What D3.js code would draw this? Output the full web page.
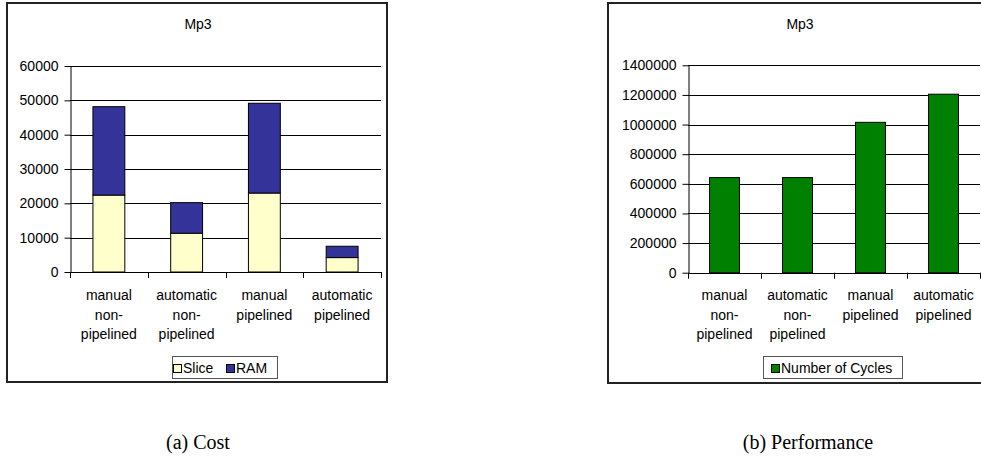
<!DOCTYPE html>
<html>
<head>
<meta charset="utf-8">
<script src="https://cdn.jsdelivr.net/npm/d3@7"></script>
<style>
  body { margin: 0; background: #fff; }
  svg { display: block; font-family: "Liberation Sans", Arial, sans-serif; }
  .caption { font-family: "Liberation Serif", "Times New Roman", serif; }
</style>
</head>
<body>
<svg id="chart" width="981" height="457"></svg>
<script>
'use strict';

// Data.
const categories = ['manual non-pipelined', 'automatic non-pipelined', 'manual pipelined', 'automatic pipelined'];
const categoryLines = [
  ['manual', 'non-', 'pipelined'],
  ['automatic', 'non-', 'pipelined'],
  ['manual', 'pipelined'],
  ['automatic', 'pipelined']
];
const sliceValues = [22400, 11300, 23000, 4200];
const ramValues = [25750, 8900, 26150, 3300];
const cycleValues = [642000, 642000, 1015000, 1205000];
const costTicks = [0, 10000, 20000, 30000, 40000, 50000, 60000];
const cycleTicks = [0, 200000, 400000, 600000, 800000, 1000000, 1200000, 1400000];

const svg = d3.select('#chart');

function drawPanel(opts) {
  const g = svg.append('g');

  // Outer frame
  g.append('rect')
    .attr('x', opts.frame[0]).attr('y', opts.frame[1])
    .attr('width', opts.frame[2]).attr('height', opts.frame[3])
    .attr('fill', '#fff').attr('stroke', '#222').attr('stroke-width', 2);

  g.append('text')
    .attr('x', opts.titleX).attr('y', 29)
    .attr('text-anchor', 'middle')
    .attr('font-size', 14)
    .text('Mp3');

  const x = d3.scaleBand()
    .domain(categories)
    .range([opts.left, opts.right])
    .padding(0);

  const y = d3.scaleLinear()
    .domain([0, opts.ticks[opts.ticks.length - 1]])
    .range([opts.bottom, opts.top]);

  // Gridlines
  g.append('g').selectAll('line')
    .data(opts.ticks.slice(1))
    .join('line')
    .attr('x1', opts.left).attr('x2', opts.right)
    .attr('y1', d => Math.round(y(d)) + 0.5).attr('y2', d => Math.round(y(d)) + 0.5)
    .attr('stroke', '#000');

  // Y axis
  const yAxis = g.append('g')
    .attr('transform', `translate(${opts.left + 0.5},0)`)
    .call(d3.axisLeft(y).tickValues(opts.ticks).tickFormat(d3.format('d'))
      .tickSize(6).tickSizeOuter(0).tickPadding(6));
  yAxis.select('.domain').attr('stroke', '#000');
  yAxis.selectAll('.tick line').attr('stroke', '#000');
  yAxis.selectAll('text')
    .attr('font-size', 14)
    .attr('font-family', '"Liberation Sans", Arial, sans-serif')
    .attr('fill', '#000');

  // Bars
  const barX = c => x(c) + x.bandwidth() * 0.295;
  const barW = x.bandwidth() * 0.41;
  opts.series.forEach((s, si) => {
    g.append('g').selectAll('rect')
      .data(categories)
      .join('rect')
      .attr('x', c => barX(c))
      .attr('width', barW)
      .attr('y', (c, i) => y(opts.base(si, i) + s.values[i]))
      .attr('height', (c, i) => y(opts.base(si, i)) - y(opts.base(si, i) + s.values[i]))
      .attr('fill', s.color)
      .attr('stroke', '#000')
      .attr('stroke-width', 1);
  });

  // X axis baseline and ticks at band boundaries
  const xAxis = g.append('g');
  xAxis.append('line')
    .attr('x1', opts.left).attr('x2', opts.right)
    .attr('y1', Math.round(opts.bottom) + 0.5).attr('y2', Math.round(opts.bottom) + 0.5)
    .attr('stroke', '#000');
  xAxis.selectAll('line.tick')
    .data(categories.map(c => x(c)).concat([opts.right]))
    .join('line')
    .attr('class', 'tick')
    .attr('x1', d => Math.round(d) + 0.5).attr('x2', d => Math.round(d) + 0.5)
    .attr('y1', opts.bottom).attr('y2', opts.bottom + 6)
    .attr('stroke', '#000');

  const labels = xAxis.selectAll('text.cat')
    .data(categories)
    .join('text')
    .attr('class', 'cat')
    .attr('text-anchor', 'middle')
    .attr('font-size', 14)
    .attr('x', c => x(c) + x.bandwidth() / 2)
    .attr('y', 300);
  labels.selectAll('tspan')
    .data((c, i) => categoryLines[i].map(t => ({ t, cx: x(c) + x.bandwidth() / 2 })))
    .join('tspan')
    .attr('x', d => d.cx)
    .attr('dy', (d, i) => i === 0 ? 0 : 19.5)
    .text(d => d.t);

  // Legend
  const lg = g.append('g');
  lg.append('rect')
    .attr('x', opts.legend.x + 0.5).attr('y', 356.5)
    .attr('width', opts.legend.w).attr('height', 22)
    .attr('fill', '#fff').attr('stroke', '#555');
  opts.series.forEach((s, i) => {
    const item = opts.legend.items[i];
    lg.append('rect')
      .attr('x', item[0] + 0.5).attr('y', 364.5)
      .attr('width', 8).attr('height', 8)
      .attr('fill', s.color).attr('stroke', '#000');
    lg.append('text')
      .attr('x', item[0] + 10).attr('y', 373)
      .attr('font-size', 14)
      .text(s.name);
  });

  svg.append('text')
    .attr('class', 'caption')
    .attr('x', opts.captionX).attr('y', 449)
    .attr('text-anchor', 'middle')
    .attr('font-size', 20)
    .text(opts.caption);
}

drawPanel({
  frame: [7, 3, 380, 379],
  titleX: 198,
  left: 70, right: 381, top: 66, bottom: 272,
  ticks: costTicks,
  series: [
    { name: 'Slice', values: sliceValues, color: '#FFFFCC' },
    { name: 'RAM', values: ramValues, color: '#333399' }
  ],
  base: (si, i) => si === 0 ? 0 : sliceValues[i],
  legend: { x: 172, w: 105, items: [[173], [226]] },
  caption: '(a) Cost',
  captionX: 198
});

drawPanel({
  frame: [608, 3, 390, 380],
  titleX: 800,
  left: 688, right: 980, top: 65.3, bottom: 272.7,
  ticks: cycleTicks,
  series: [
    { name: 'Number of Cycles', values: cycleValues, color: '#008000' }
  ],
  base: () => 0,
  legend: { x: 763, w: 139, items: [[771]] },
  caption: '(b) Performance',
  captionX: 808
});
</script>
</body>
</html>
